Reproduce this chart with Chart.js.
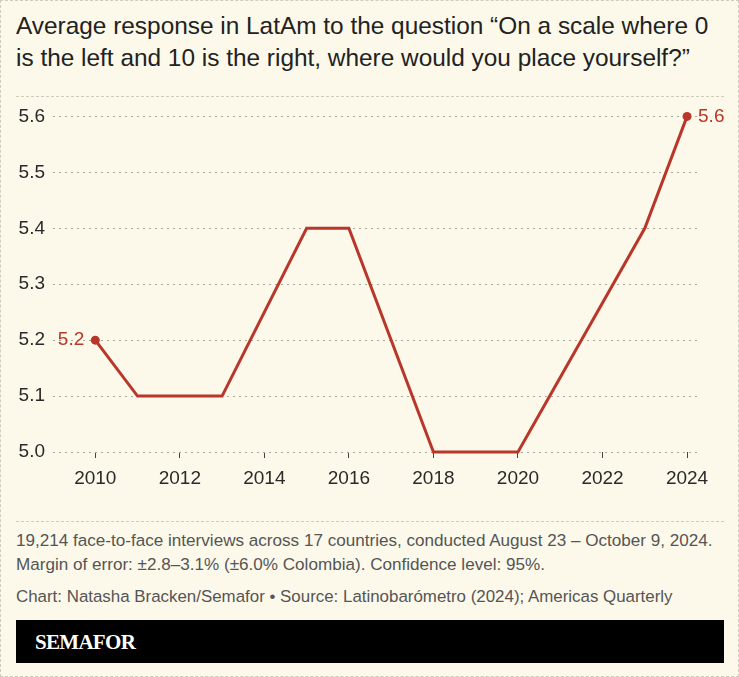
<!DOCTYPE html>
<html><head><meta charset="utf-8">
<script src="https://cdn.jsdelivr.net/npm/chart.js@4"></script>
<style>
html,body{margin:0;padding:0;background:#fcf9ea;}
#wrap{position:relative;width:739px;height:677px;background:#fcf9ea;box-sizing:border-box;border:1px dashed #cfccbd;overflow:hidden;}
#title{position:absolute;left:15px;top:9px;width:724px;font-family:"Liberation Sans",Arial,sans-serif;font-size:24.4px;line-height:32px;color:#222;white-space:nowrap;}
.hr{position:absolute;left:15px;width:708px;height:0;border-top:1px dashed #cfccbd;}
#chartbox{position:absolute;left:0;top:96px;width:739px;height:400px;}
#notes{position:absolute;left:15px;top:528px;width:720px;font-family:"Liberation Sans",sans-serif;font-size:17.1px;line-height:24px;color:#555;white-space:nowrap;}
#credit{position:absolute;left:15px;top:584px;width:720px;font-family:"Liberation Sans",sans-serif;font-size:16.9px;line-height:24px;color:#555;white-space:nowrap;}
#bar{position:absolute;left:15px;top:619px;width:708px;height:43px;background:#000;}
#logo{position:absolute;left:19px;top:10px;font-family:"Liberation Serif",serif;font-weight:bold;font-size:21px;letter-spacing:-0.7px;color:#fff;line-height:24px;}
</style></head>
<body>
<div id="wrap">
  <div id="title">Average response in LatAm to the question “On a scale where 0<br>is the left and 10 is the right, where would you place yourself?”</div>
  <div class="hr" style="top:95px"></div>
  <div id="chartbox"><canvas id="c"></canvas></div>
  <div class="hr" style="top:520px"></div>
  <div id="notes">19,214 face-to-face interviews across 17 countries, conducted August 23 – October 9, 2024.<br>Margin of error: ±2.8–3.1% (±6.0% Colombia). Confidence level: 95%.</div>
  <div id="credit">Chart: Natasha Bracken/Semafor • Source: Latinobarómetro (2024); Americas Quarterly</div>
  <div id="bar"><div id="logo">SEMAFOR</div></div>
</div>
<script>
const years = [2010, 2011, 2013, 2015, 2016, 2018, 2020, 2023, 2024];
const values = [5.2, 5.1, 5.1, 5.4, 5.4, 5.0, 5.0, 5.4, 5.6];
const xTickYears = [2010, 2012, 2014, 2016, 2018, 2020, 2022, 2024];
const yTickValues = [5.0, 5.1, 5.2, 5.3, 5.4, 5.5, 5.6];

const RED = '#b8372a';
const TICKFONT = {family: '"Liberation Sans", sans-serif', size: 19};

const endLabels = {
  id: 'endLabels',
  afterDatasetsDraw(chart) {
    const meta = chart.getDatasetMeta(0);
    const ctx = chart.ctx;
    ctx.save();
    ctx.font = '19px "Liberation Sans", sans-serif';
    ctx.fillStyle = RED;
    ctx.textBaseline = 'middle';
    const first = meta.data[0], last = meta.data[meta.data.length - 1];
    ctx.textAlign = 'right';
    ctx.fillText(values[0].toFixed(1), first.x - 11, first.y);
    ctx.textAlign = 'left';
    ctx.fillText(values[values.length - 1].toFixed(1), last.x + 11, last.y);
    ctx.restore();
  }
};

new Chart(document.getElementById('c'), {
  type: 'line',
  data: {
    datasets: [{
      data: years.map((y, i) => ({x: y, y: values[i]})),
      borderColor: RED,
      backgroundColor: RED,
      borderWidth: 3,
      tension: 0,
      clip: false,
      pointRadius: ctx => (ctx.dataIndex === 0 || ctx.dataIndex === values.length - 1) ? 4.5 : 0,
      pointHoverRadius: 0,
      pointBorderWidth: 0
    }]
  },
  options: {
    responsive: true,
    maintainAspectRatio: false,
    animation: false,
    events: [],
    layout: {padding: {left: 0, right: 39, top: 11, bottom: 0}},
    plugins: {legend: {display: false}, tooltip: {enabled: false}},
    scales: {
      x: {
        type: 'linear',
        min: 2009,
        max: 2024.33,
        afterBuildTicks: s => { s.ticks = xTickYears.map(v => ({value: v})); },
        afterFit: s => { s.height = 45; },
        grid: {drawOnChartArea: false, drawTicks: true, tickLength: 6, color: '#444', lineWidth: 1},
        border: {display: false},
        ticks: {font: TICKFONT, color: '#2a2a2a', padding: 9, maxRotation: 0, callback: v => String(v)}
      },
      y: {
        min: 5.0,
        max: 5.6,
        afterBuildTicks: s => { s.ticks = yTickValues.map(v => ({value: v})); },
        afterFit: s => { s.width = 52; },
        grid: {drawTicks: false, color: '#a9a79c', lineWidth: 1},
        border: {display: false, dash: [2, 4]},
        ticks: {font: TICKFONT, color: '#2a2a2a', padding: 8, callback: v => Number(v).toFixed(1)}
      }
    }
  },
  plugins: [endLabels]
});
</script>
</body></html>
